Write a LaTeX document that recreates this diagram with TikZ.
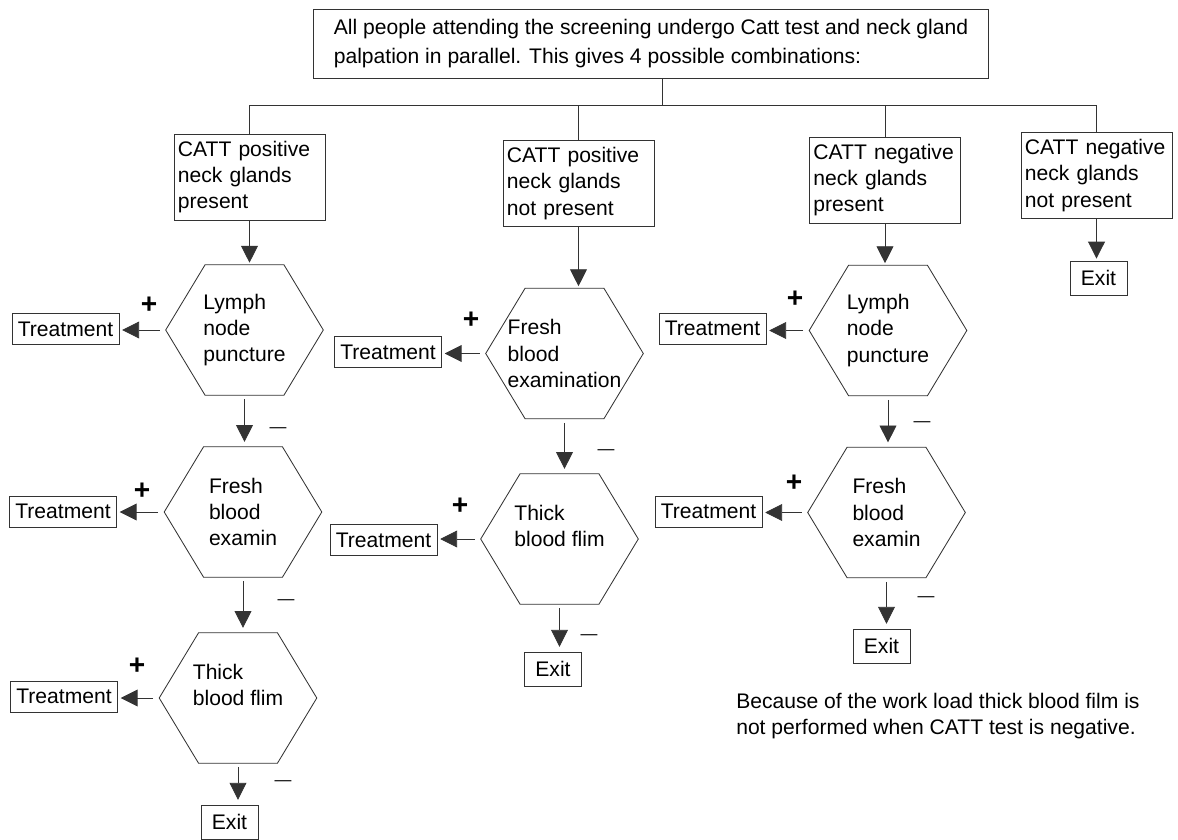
\documentclass[tikz,border=0pt]{standalone}
\usepackage{fontspec}
\setmainfont{Liberation Sans}
\usetikzlibrary{arrows.meta,calc}

\tikzset{
	box/.style={draw=black!80, line width=0.6pt, align=left, inner ysep=0pt},
	combo/.style={box, text width=3.575cm, inner xsep=0.1cm, minimum height=2.15cm},
	treat/.style={box, inner xsep=0.1cm, minimum width=2.675cm, minimum height=0.775cm},
	exitbox/.style={box, minimum width=1.425cm, minimum height=0.85cm},
	hexbox/.style={align=left, inner sep=0pt, minimum width=3.925cm, minimum height=3.25cm},
	line/.style={draw=black!80, line width=0.6pt},
	arr/.style={line, -{Triangle[length=12pt,width=12pt]}},
	gap/.style={shorten <=0.1cm, shorten >=0.12cm},
	plus/.style={font=\fontsize{20}{20}\selectfont\bfseries, inner sep=0pt},
	minus/.style={font=\fontsize{12}{12}\selectfont, inner sep=0pt}
}

\begin{document}
\begin{tikzpicture}[x=0.025cm, y=-0.025cm, font=\fontsize{15}{18.8}\selectfont]
	\useasboundingbox (0,0) rectangle (1178,840);

	% screening and the four combinations
	\node[box, inner xsep=0.42cm, minimum width=16.85cm, minimum height=1.725cm, font=\fontsize{15}{20}\selectfont] (top) at (651,43.5)
		{All people attending the screening undergo Catt test and neck gland\\palpation in parallel. This gives 4 possible combinations:};
	\node[combo] (c1) at (249.5,177) {CATT positive\\neck glands\\present};
	\node[combo] (c2) at (578.5,183.5) {CATT positive\\neck glands\\not present};
	\node[combo] (c3) at (885,180) {CATT negative\\neck glands\\present};
	\node[combo] (c4) at (1096.5,175.5) {CATT negative\\neck glands\\not present};

	\coordinate (bus) at (662,105);
	\draw[line] (top.south -| bus) -- (bus);
	\draw[line] (c1.north |- bus) -- (c4.north |- bus);
	\foreach \c in {c1,c2,c3,c4}
		\draw[line] (\c.north) -- (\c.north |- bus);

	% column 1
	\node[hexbox] (h11) at (244.5,330) {Lymph\\node\\puncture};
	\node[hexbox] (h12) at (243,512) {Fresh\\blood\\examin};
	\node[hexbox] (h13) at (238,698) {Thick\\blood flim\\~};
	\node[treat] (t11) at (65.5,329) {Treatment};
	\node[treat] (t12) at (63,511.5) {Treatment};
	\node[treat] (t13) at (64,696.5) {Treatment};
	\node[exitbox] (e1) at (229.5,822) {Exit};

	% column 2
	\node[hexbox] (h21) at (564.5,353.5) {Fresh\\blood\\examination};
	\node[hexbox] (h22) at (559.5,539) {Thick\\blood flim\\~};
	\node[treat] (t21) at (388,352) {Treatment};
	\node[treat] (t22) at (383.5,540) {Treatment};
	\node[exitbox] (e2) at (553,669) {Exit};

	% column 3
	\node[hexbox] (h31) at (888,330.5) {Lymph\\node\\puncture};
	\node[hexbox] (h32) at (886.5,512.5) {Fresh\\blood\\examin};
	\node[treat] (t31) at (712.5,328.5) {Treatment};
	\node[treat] (t32) at (708.5,511.5) {Treatment};
	\node[exitbox] (e3) at (881.5,646) {Exit};

	% column 4
	\node[exitbox] (e4) at (1098.5,278) {Exit};

	\foreach \h in {h11,h12,h13,h21,h22,h31,h32}
		\draw[line] (\h.west) -- ($(\h.north west)!.25!(\h.north east)$) -- ($(\h.north west)!.75!(\h.north east)$)
			-- (\h.east) -- ($(\h.south west)!.75!(\h.south east)$) -- ($(\h.south west)!.25!(\h.south east)$) -- cycle;

	% arrows
	\foreach \a/\b in {c1/h11,c2/h21,c3/h31,c4/e4}
		\draw[arr, shorten >=0.05cm] (\a.south) -- (\a.south |- \b.north);
	\foreach \a/\b in {h11/h12,h12/h13,h13/e1,h21/h22,h22/e2,h31/h32,h32/e3}
		\draw[arr, gap] (\a.south) -- (\a.south |- \b.north);
	\foreach \h/\t in {h11/t11,h12/t12,h13/t13,h21/t21,h22/t22,h31/t31,h32/t32}
		\draw[arr, shorten <=0.15cm, shorten >=0.07cm] (\h.west) -- (\h.west -| \t.east);

	% signs
	\node[plus] (p11) at (149,305) {+};
	\node[plus] (p12) at (142,491) {+};
	\node[plus] (p13) at (137,666) {+};
	\node[plus] (p21) at (471,320) {+};
	\node[plus] (p22) at (460,506) {+};
	\node[plus] (p31) at (795,299) {+};
	\node[plus] (p32) at (794,483) {+};
	\node[minus] (m11) at (278,430) {—};
	\node[minus] (m12) at (286,602) {—};
	\node[minus] (m13) at (283,783) {—};
	\node[minus] (m21) at (606,452) {—};
	\node[minus] (m22) at (589,637) {—};
	\node[minus] (m31) at (922,424) {—};
	\node[minus] (m32) at (926,599) {—};

	\node[align=left, anchor=west, inner sep=0pt] (note) at (736,716)
		{Because of the work load thick blood film is\\not performed when CATT test is negative.};
\end{tikzpicture}
\end{document}
